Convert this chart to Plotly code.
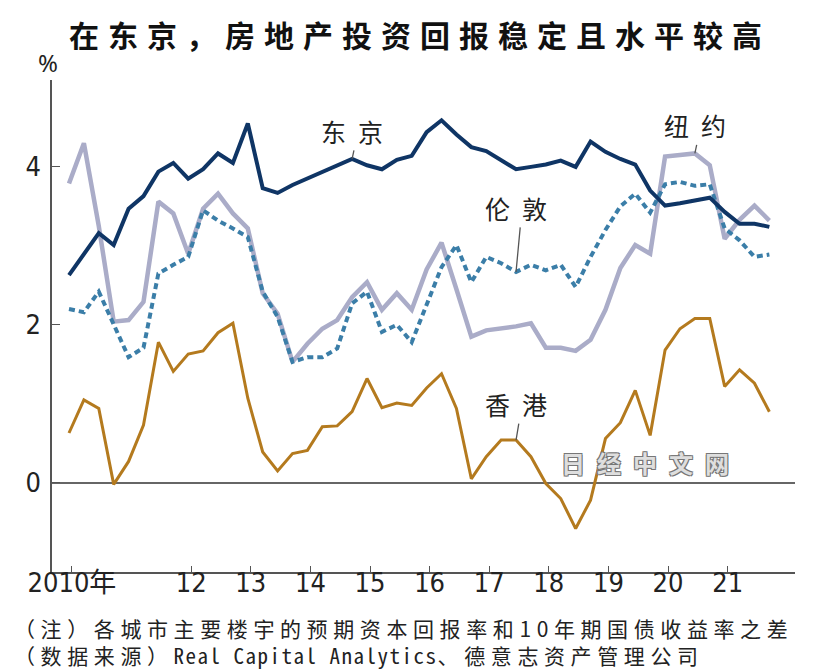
import plotly.graph_objects as go

# ---------------- data ----------------
quarters = [f"{y}-Q{q}" for y in range(2010, 2022) for q in range(1, 5)]

tokyo = [2.63, 2.90, 3.16, 3.01, 3.47, 3.63, 3.94, 4.05, 3.85, 3.97, 4.17, 4.05,
         4.55, 3.73, 3.67, 3.77, 3.85, 3.94, 4.02, 4.10, 4.02, 3.97, 4.09, 4.14,
         4.44, 4.59, 4.41, 4.25, 4.20, 4.08, 3.97, 4.00, 4.03, 4.08, 4.00, 4.32,
         4.19, 4.10, 4.03, 3.70, 3.51, 3.54, 3.57, 3.61, 3.43, 3.28, 3.28, 3.24]

new_york = [3.79, 4.30, 3.25, 2.04, 2.06, 2.29, 3.56, 3.41, 2.90, 3.47, 3.66, 3.41,
            3.22, 2.40, 2.14, 1.53, 1.76, 1.95, 2.06, 2.35, 2.54, 2.19, 2.40, 2.19,
            2.70, 3.04, 2.45, 1.85, 1.93, 1.95, 1.98, 2.02, 1.71, 1.71, 1.67, 1.81,
            2.19, 2.72, 3.01, 2.90, 4.13, 4.15, 4.17, 4.02, 3.09, 3.33, 3.51, 3.32]

london = [2.20, 2.16, 2.42, 2.00, 1.59, 1.71, 2.65, 2.76, 2.86, 3.45, 3.32, 3.22,
          3.11, 2.42, 2.10, 1.53, 1.59, 1.59, 1.70, 2.27, 2.42, 1.91, 2.00, 1.78,
          2.25, 2.73, 3.01, 2.54, 2.86, 2.78, 2.67, 2.76, 2.69, 2.76, 2.48, 2.86,
          3.20, 3.50, 3.66, 3.42, 3.78, 3.81, 3.76, 3.78, 3.22, 3.07, 2.86, 2.89]

hong_kong = [0.63, 1.05, 0.94, -0.02, 0.27, 0.73, 1.78, 1.41, 1.63, 1.67, 1.90, 2.02,
             1.07, 0.39, 0.15, 0.37, 0.41, 0.71, 0.72, 0.90, 1.32, 0.95, 1.01, 0.98,
             1.20, 1.38, 0.94, 0.05, 0.33, 0.54, 0.54, 0.33, -0.01, -0.20, -0.58, -0.22,
             0.56, 0.76, 1.17, 0.60, 1.68, 1.95, 2.08, 2.08, 1.22, 1.43, 1.26, 0.90]

tick_years = [2010, 2012, 2013, 2014, 2015, 2016, 2017, 2018, 2019, 2020, 2021]
tick_labels = ["2010年", "12", "13", "14", "15", "16", "17", "18", "19", "20", "21"]
y_ticks = [0, 2, 4]

title_text = "在东京，房地产投资回报稳定且水平较高"
note1 = "（注）各城市主要楼宇的预期资本回报率和10年期国债收益率之差"
note2_a = "（数据来源）"
note2_b = "Real Capital Analytics"
note2_c = "、德意志资产管理公司"

# ---------------- helpers ----------------
x = [int(s[:4]) + (int(s[-1]) - 1) / 4 for s in quarters]

OFF = 8  # page body margin
W, H = 832 - OFF, 672 - OFF
L, T = 52 - OFF, 80 - OFF
R = W - (795 - OFF)
B = H - (572 - OFF)
pw, ph = W - L - R, H - T - B


def px(xp):
    return (xp - OFF - L) / pw


def py(yp):
    return (H - B - (yp - OFF)) / ph


def spaced(s, ls, family=None):
    st = f"letter-spacing:{ls}px"
    if family:
        st += f";font-family:{family}"
    return f'<span style="{st}">{s}</span>'


CJK = '"Noto Sans CJK SC", "Noto Sans", sans-serif'
NARROW = '"Liberation Sans Narrow", "DejaVu Sans Condensed", "Noto Sans CJK SC", sans-serif'
MONO = "'Noto Sans Mono CJK SC', 'DejaVu Sans Mono', monospace"

C_TOKYO = "#0f3565"
C_NY = "#aaacc8"
C_LONDON = "#3b7ea8"
C_HK = "#b47a1e"

fig = go.Figure()
fig.add_trace(go.Scatter(x=x, y=hong_kong, mode="lines", name="香港",
                         line=dict(color=C_HK, width=3)))
fig.add_trace(go.Scatter(x=x, y=new_york, mode="lines", name="纽约",
                         line=dict(color=C_NY, width=4.5)))
fig.add_trace(go.Scatter(x=x, y=london, mode="lines", name="伦敦",
                         line=dict(color=C_LONDON, width=4, dash="6px,4px")))
fig.add_trace(go.Scatter(x=x, y=tokyo, mode="lines", name="东京",
                         line=dict(color=C_TOKYO, width=4)))

LS_LAB = 12
label_font = dict(family=CJK, size=25, color="#222")
arrow = dict(showarrow=True, arrowhead=0, arrowwidth=1.3, arrowcolor="#555",
             standoff=0, ax=LS_LAB / 2)
annotations = [
    dict(x=x[19], y=tokyo[19], text=spaced("东京", LS_LAB), font=label_font, ay=-28, **arrow),
    dict(x=x[30], y=london[30], text=spaced("伦敦", LS_LAB), font=label_font, ay=-64, **arrow),
    dict(x=x[30], y=hong_kong[30], text=spaced("香港", LS_LAB), font=label_font, ay=-36, **arrow),
    dict(x=x[42], y=new_york[42], text=spaced("纽约", LS_LAB), font=label_font, ay=-28, **arrow),
    # percent sign
    dict(xref="paper", yref="paper", x=px(48), y=py(63), xanchor="center", yanchor="middle",
         text="%", showarrow=False,
         font=dict(family='"Noto Sans", sans-serif', size=24, color="#222")),
    # watermark
    dict(xref="paper", yref="paper", x=px(651), y=py(462), xanchor="center", yanchor="middle",
         text=spaced("日经中文网", 12), showarrow=False,
         font=dict(family=CJK, size=24, color="#dedede", weight="bold",
                   shadow="1px 1px 0 #777, -1px -1px 0 #777, 1px -1px 0 #777, -1px 1px 0 #777")),
    # footnotes
    dict(xref="paper", yref="paper", x=px(12), y=py(641), xanchor="left", yanchor="middle",
         align="left", showarrow=False, font=dict(family=CJK, size=21, color="#222"),
         text=spaced(note1, 5.6) + "<br>" + spaced(note2_a, 5.6)
              + spaced(note2_b, 1.5, MONO) + spaced(note2_c, 5.6)),
]

fig.update_layout(
    width=W, height=H,
    margin=dict(l=L, r=R, t=T, b=B, autoexpand=False),
    paper_bgcolor="white", plot_bgcolor="white",
    showlegend=False,
    title=dict(text=spaced(title_text, 9), xref="container", x=(420 - OFF) / W,
               xanchor="center", y=1 - (36 - OFF) / H, yanchor="middle",
               font=dict(family=CJK, size=30, color="#111", weight="bold")),
    annotations=annotations,
    xaxis=dict(range=[2009.715, 2022.18], showgrid=False, zeroline=False, automargin=False,
               showline=True, linecolor="#555", linewidth=1.5,
               ticks="inside", ticklen=6, tickcolor="#555", tickwidth=1.3,
               tickvals=[v + 0.05 for v in tick_years], ticktext=tick_labels,
               ticklabelstandoff=-14,
               tickfont=dict(family=NARROW, size=27, color="#222")),
    yaxis=dict(range=[-1.13, 5.10], showgrid=False, automargin=False,
               zeroline=True, zerolinecolor="#666", zerolinewidth=1.5,
               showline=True, linecolor="#555", linewidth=1.5,
               ticks="inside", ticklen=8, tickcolor="#555", tickwidth=1.3,
               tickvals=y_ticks, ticklabelstandoff=4,
               tickfont=dict(family=NARROW, size=27, color="#222")),
)

fig.write_html("out.html")
